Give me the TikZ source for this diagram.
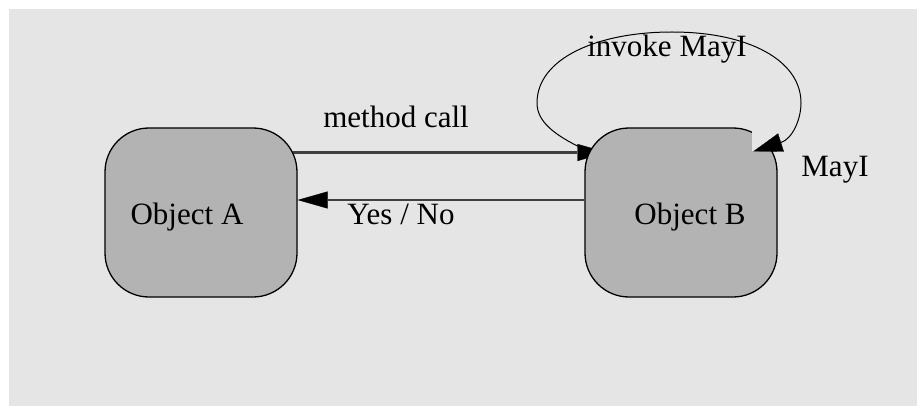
\documentclass[tikz,border=0pt]{standalone}
\usepackage{fontspec}
\setmainfont{Liberation Serif}
\usetikzlibrary{arrows.meta}
\definecolor{bg}{HTML}{E5E5E5}
\definecolor{boxfill}{HTML}{B3B3B3}
\definecolor{linegray}{HTML}{404040}
\pgfdeclarelayer{bglayer}
\pgfdeclarelayer{arrowlayer}
\pgfsetlayers{bglayer,arrowlayer,main}
\begin{document}
\begin{tikzpicture}[x=1pt,y=-1pt,
  obj/.style={draw=black,line width=1.3pt,fill=boxfill,rounded corners=44pt,
    minimum width=192pt,minimum height=169pt,inner sep=0pt},
  lbl/.style={font=\fontsize{31}{36}\selectfont,anchor=base,inner sep=0pt},
  msg/.style={draw=linegray,line width=2.5pt,
    -{Triangle[length=30pt,width=17pt,line width=0.3pt,color=black]}},
  selfloop/.style={draw=black,line width=1pt,
    -{Triangle[length=29pt,width=19pt,line width=0.3pt]}}]
\useasboundingbox (0,0) rectangle (917,406);
\begin{pgfonlayer}{bglayer}
  \fill[bg] (9,9) rectangle (917,406);
\end{pgfonlayer}
\node[obj] (A) at (201,212.5) {};
\node[obj] (B) at (681,212.5) {};
\begin{pgfonlayer}{arrowlayer}
  \draw[msg] ([shift={(-5,-60)}]A.east) -- ([shift={(23,-60)}]B.west);
  \draw[msg] ([shift={(0,-12.5)}]B.west) -- ([shift={(0,-12.5)}]A.east);
\end{pgfonlayer}
% notch at the top right corner of B
\fill[bg] ([shift={(168,-8)}]B.north west) rectangle ([shift={(195,24)}]B.north west);
\node[lbl] (tA) at (187,224) {Object A};
\node[lbl] (tB) at (690,224) {Object B};
\node[lbl] (mc) at (396,128) {method call};
\node[lbl] (yn) at (401,224) {Yes / No};
\node[lbl] (mi) at (835,176) {MayI};
\node[lbl] (inv) at (667,57) {invoke MayI};
\coordinate (ls) at ([shift={(-3,-64.5)}]B.west);
\coordinate (le) at ([shift={(169,24)}]B.north west);
\draw[selfloop] (ls) .. controls (555,135) and (537,122) .. (537,103)
  .. controls (537,58) and (598,32) .. (672,32)
  .. controls (748,32) and (801,60) .. (801,103)
  .. controls (801,120) and (792,139) .. (le);
\end{tikzpicture}
\end{document}
